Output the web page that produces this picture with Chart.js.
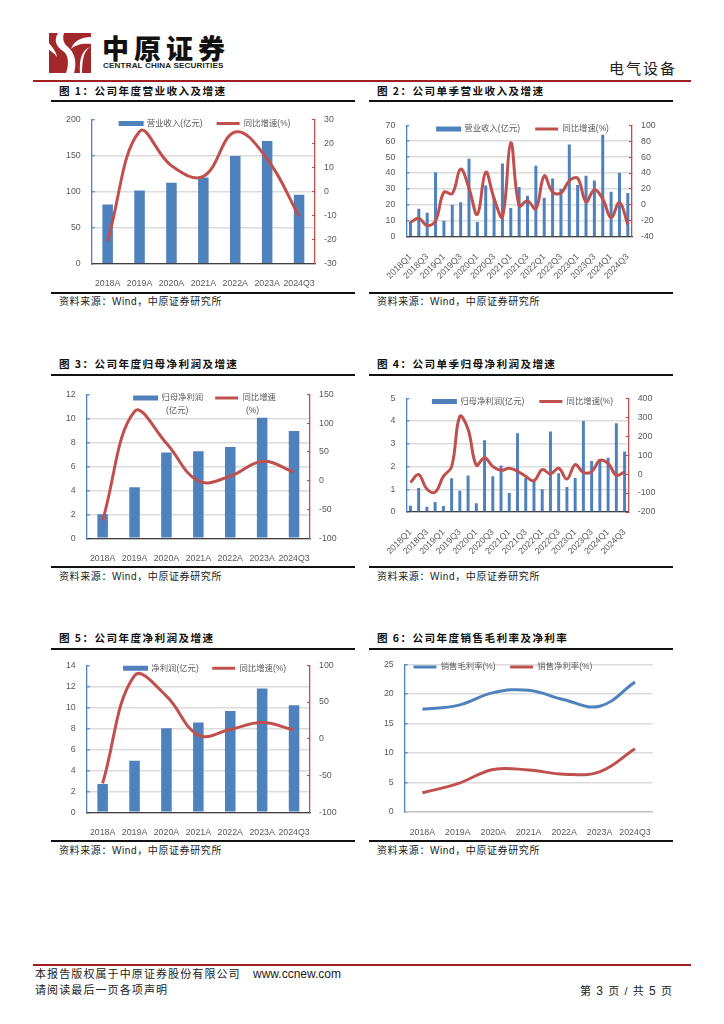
<!DOCTYPE html>
<html>
<head>
<meta charset="utf-8">
<script src="https://cdn.jsdelivr.net/npm/chart.js@4"></script>
<style>
  html, body { margin: 0; padding: 0; background: #fff; }
  #page { position: relative; width: 724px; height: 1024px; overflow: hidden; font-family: 'Liberation Sans', 'Noto Sans CJK SC', sans-serif; color: #1a1a1a; }
  #page canvas, .t, .rule { position: absolute; }
  .t { white-space: nowrap; line-height: 1; }
  .title { font-family: 'Noto Sans CJK SC', sans-serif; font-weight: 700; font-size: 10.6px; letter-spacing: 1.4px; color: #111; }
  .src { font-size: 10px; letter-spacing: 0.6px; color: #222; }
  .rule { background: #111; height: 2px; }
  .red { background: #a01f22; height: 2px; }
  .leg2 { font-size: 8.4px; color: #595959; }
  .foot { font-size: 11px; letter-spacing: 1.1px; color: #222; }
</style>
</head>
<body>
<div id="page">
  <svg style="position:absolute;left:49px;top:33px" width="42" height="40" viewBox="0 0 42 40">
    <rect width="42" height="40" fill="#a3282c"/>
    <path d="M9 0 C4 8 8 14 14 18 C20 22 20 32 17 40 L25 40 C28 30 26 20 19 14 C15 11 13 6 15 0 Z" fill="#fff"/>
    <path d="M42 4 C30 4 24 10 22 16 C26 12 33 10 42 11 Z" fill="#fff"/>
    <path d="M0 10 C3 14 7 18 8 24 C5 20 2 18 0 17 Z" fill="#fff"/>
    <path d="M42 14 C36 16 33 24 33 40 L31 40 C30 26 33 16 42 14 Z" fill="#fff"/>
  </svg>
  <div class="t" style="left:102px;top:34px;font-family:'Noto Sans CJK SC';font-weight:900;font-size:27px;letter-spacing:5px;color:#111">中原证券</div>
  <div class="t" style="left:103px;top:62px;font-weight:700;font-size:8.1px;letter-spacing:.15px;color:#222">CENTRAL CHINA SECURITIES</div>
  <div class="t" style="left:609px;top:60px;font-family:'Noto Sans CJK SC';font-size:15px;letter-spacing:2px;color:#222">电气设备</div>
  <div class="rule red" style="left:33px;top:80px;width:658px"></div>

  <div class="rule red" style="left:33px;top:964px;width:658px"></div>
  <div class="t foot" style="left:35px;top:969px">本报告版权属于中原证券股份有限公司</div>
  <div class="t" style="left:253px;top:968px;font-size:12px">www.ccnew.com</div>
  <div class="t foot" style="left:35px;top:985px">请阅读最后一页各项声明</div>
  <div class="t foot" style="left:580px;top:985px">第 <b style="font-weight:400;font-size:12px">3</b> 页 / 共 <b style="font-weight:400;font-size:12px">5</b> 页</div>
</div>

<script>
const yearLabels = ['2018A', '2019A', '2020A', '2021A', '2022A', '2023A', '2024Q3'];
const quarterLabels = ['2018Q1', '2018Q2', '2018Q3', '2018Q4', '2019Q1', '2019Q2', '2019Q3', '2019Q4',
  '2020Q1', '2020Q2', '2020Q3', '2020Q4', '2021Q1', '2021Q2', '2021Q3', '2021Q4',
  '2022Q1', '2022Q2', '2022Q3', '2022Q4', '2023Q1', '2023Q2', '2023Q3', '2023Q4',
  '2024Q1', '2024Q2', '2024Q3'];

// 图1
const revenueYear = [82, 101.5, 112, 119.5, 149, 170, 95.5];
const revenueYearGrowth = [-20.5, 24.9, 10.7, 6.3, 24.7, 13.5, -10.3];
// 图2
const revenueQuarter = [9.5, 17.5, 15, 40.5, 10, 20, 21.7, 49, 9.2, 32.2, 24.5, 46, 18, 31.2, 25.7, 44.5,
  24.5, 36.5, 30, 58, 32.5, 38.3, 35.3, 64, 28.2, 40.2, 27.5];
const revenueQuarterGrowth = [-22, -17, -26, -20, 16, 14, 45, 21, -12, 41, 8, -15, 78, -1, 5, -5,
  36.5, 16, 15, 30, 33.5, 4, 19, 7.5, -16, 3, -24.5];
// 图3
const parentProfitYear = [2, 4.25, 7.15, 7.25, 7.6, 10.05, 8.95];
const parentProfitYearGrowth = [-69, 120, 65, -0.6, 8, 33.5, 15];
// 图4
const parentProfitQuarter = [0.28, 1.06, 0.23, 0.44, 0.26, 1.48, 0.93, 1.6, 0.38, 3.15, 1.57, 2.04, 0.83, 3.46, 1.49, 1.38,
  1, 3.54, 1.7, 1.1, 1.5, 4, 2.24, 2.33, 2.38, 3.9, 2.66];
const parentProfitQuarterGrowth = [-44, -3, -79, -95, -12, 38, 304, 237, 47, 86, 41, 20, 31, 15, -12, -35,
  24, 1, 31, -26, 50, 9, 13, 73, 56, -6, 11];
// 图5
const netProfitYear = [2.7, 4.9, 8, 8.55, 9.65, 11.8, 10.2];
const netProfitYearGrowth = [-60.6, 86, 58, 5, 12.7, 22, 12];
// 图6
const grossMargin = [17.4, 18.05, 20.2, 20.6, 19, 17.9, 22];
const netMargin = [3.25, 4.8, 7.2, 7.1, 6.4, 6.8, 10.7];

const BLUE = '#4f81bd', RED = '#c0504d', GREY = '#595959', GRID = '#dcdcdc';
const TOP_SLACK = 4.28; // 图例上方布局自己留的空白（刻度字一半高）
const page = document.getElementById('page');

Chart.defaults.font.family = "'Liberation Sans', 'Noto Sans CJK SC', sans-serif";
Chart.defaults.color = GREY;

// 图例压在绘图区上面，不占布局高度
const overlayLegend = {
  id: 'overlayLegend',
  beforeLayout(chart) {
    const legend = chart.legend;
    if (legend._patched) return;
    const fit = legend.fit;
    legend.fit = function () { fit.call(this); this.height = chart.options.legendTop; };
    legend._patched = true;
  },
  afterLayout(chart) { chart.legend.bottom += 40; } // 否则图例被裁掉
};

function addText(cls, text, left, top) {
  const el = document.createElement('div');
  el.className = 't ' + cls;
  el.textContent = text;
  el.style.left = left + 'px';
  el.style.top = top + 'px';
  page.appendChild(el);
}

function addChart(c) {
  const W = 340;
  const boxX = Math.round(c.legendX - W / 2);
  const boxY = Math.round(c.plot.t + c.legendY - 4.2 - c.gap - TOP_SLACK);
  const legendTop = c.plot.t - boxY - TOP_SLACK;
  const canvas = document.createElement('canvas');
  canvas.width = W;
  canvas.height = Math.ceil(c.plot.b - boxY + c.bottomH);
  canvas.style.left = boxX + 'px';
  canvas.style.top = boxY + 'px';
  page.appendChild(canvas);

  const bottom = canvas.height - (c.plot.b - boxY);
  const leftW = c.plot.l - boxX, rightW = boxX + W - c.plot.r;
  const tick = { size: c.tickSize };
  const scales = {
    x: {
      offset: true,
      grid: { display: false },
      border: { color: c.xAxisColor || '#404040', width: 1.3 },
      ticks: {
        font: tick, padding: 7, autoSkip: false,
        minRotation: c.rotate || 0, maxRotation: c.rotate || 0,
        callback(v, i) { return c.rotate && i % 2 ? '' : this.getLabelForValue(v); }
      },
      afterFit(s) { s.height = bottom; }
    },
    y: {
      position: 'left', min: c.left[0], max: c.left[1],
      grid: {
        color: t => (t.tick.value === c.left[1] && !c.topGrid) ? 'transparent' : GRID,
        lineWidth: 1.5, tickLength: -3, tickColor: BLUE, tickWidth: 1.2
      },
      border: { color: BLUE, width: 1.3 },
      ticks: { stepSize: c.left[2], font: tick, padding: 14 },
      afterFit(s) { s.width = leftW; }
    }
  };
  if (c.right) {
    scales.y1 = {
      position: 'right', min: c.right[0], max: c.right[1],
      grid: { drawOnChartArea: false, tickLength: -3, tickColor: RED, tickWidth: 1.2 },
      border: { color: RED, width: 1.3 },
      ticks: { stepSize: c.right[2], font: tick, padding: 12 },
      afterFit(s) { s.width = rightW; }
    };
  }
  const datasets = c.series.map(s => s.type === 'bar'
    ? { type: 'bar', label: s.name, data: s.data, backgroundColor: s.color, order: 2, yAxisID: 'y',
        barPercentage: c.barPct, categoryPercentage: 1 }
    : { type: 'line', label: s.name, data: s.data, borderColor: s.color, backgroundColor: s.color,
        borderWidth: 3, pointRadius: 0, tension: 0.4, order: 1, yAxisID: s.axis });

  new Chart(canvas, {
    data: { labels: c.labels, datasets },
    plugins: [overlayLegend],
    options: {
      responsive: false,
      animation: false,
      legendTop,
      layout: { autoPadding: false, padding: { right: c.right ? 0 : rightW } },
      scales,
      plugins: {
        tooltip: { enabled: false },
        legend: {
          position: 'top',
          labels: {
            boxWidth: 23, boxHeight: 3, padding: c.gap,
            font: { size: 8.4 }, color: GREY,
            sort: (a, b) => a.datasetIndex - b.datasetIndex,
            generateLabels(chart) {
              return Chart.defaults.plugins.legend.labels.generateLabels(chart).map(i => {
                const isBar = chart.data.datasets[i.datasetIndex].type === 'bar';
                return Object.assign(i, { lineWidth: isBar ? 2 : 0, strokeStyle: i.fillStyle });
              });
            }
          }
        }
      }
    }
  });
}

function addFrame(title, x, titleY, rule1, rule2, srcY) {
  addText('title', title, x + 8, titleY - 6);
  [rule1, rule2].forEach(y => {
    const r = document.createElement('div');
    r.className = 'rule';
    r.style.cssText = `left:${x}px;top:${y - 1}px;width:304px`;
    page.appendChild(r);
  });
  addText('src', '资料来源：Wind，中原证券研究所', x + 8, srcY - 6);
}

addFrame('图 1：公司年度营业收入及增速', 51, 91.7, 101, 293.3, 303);
addFrame('图 2：公司单季营业收入及增速', 369, 91.7, 101, 293.3, 303);
addFrame('图 3：公司年度归母净利润及增速', 51, 365, 375.3, 567.3, 577.7);
addFrame('图 4：公司单季归母净利润及增速', 369, 365, 375.3, 567.3, 577.7);
addFrame('图 5：公司年度净利润及增速', 51, 639, 649.3, 841, 851.7);
addFrame('图 6：公司年度销售毛利率及净利率', 369, 639, 649.3, 841, 851.7);

addChart({
  labels: yearLabels, plot: { l: 91.7, r: 315, t: 118.3, b: 263.7 }, bottomH: 30, tickSize: 8.8,
  left: [0, 200, 50], right: [-30, 30, 10], barPct: 0.33, legendX: 204.5, legendY: 3.7, gap: 14,
  series: [
    { type: 'bar', name: '营业收入(亿元)', data: revenueYear, color: BLUE },
    { type: 'line', name: '同比增速(%)', data: revenueYearGrowth, color: RED, axis: 'y1' }
  ]
});
addChart({
  labels: quarterLabels, plot: { l: 406.3, r: 632, t: 125.7, b: 236.7 }, bottomH: 50, tickSize: 8.8, rotate: 45,
  left: [0, 70, 10], right: [-40, 100, 20], barPct: 0.36, legendX: 522.5, legendY: 3.3, gap: 15,
  series: [
    { type: 'bar', name: '营业收入(亿元)', data: revenueQuarter, color: BLUE },
    { type: 'line', name: '同比增速(%)', data: revenueQuarterGrowth, color: RED, axis: 'y1' }
  ]
});
addChart({
  labels: yearLabels, plot: { l: 86.7, r: 310, t: 391.7, b: 538.3 }, bottomH: 30, tickSize: 8.8,
  left: [0, 12, 2], right: [-100, 150, 50], barPct: 0.33, legendX: 205, legendY: 3.3, gap: 12,
  series: [
    { type: 'bar', name: '归母净利润', data: parentProfitYear, color: BLUE },
    { type: 'line', name: '同比增速', data: parentProfitYearGrowth, color: RED, axis: 'y1' }
  ]
});
addChart({
  labels: quarterLabels, plot: { l: 406.3, r: 628.7, t: 399.3, b: 512 }, bottomH: 50, tickSize: 8.8, rotate: 45,
  left: [0, 5, 1], right: [-200, 400, 100], barPct: 0.36, legendX: 523, legendY: 3.4, gap: 15,
  series: [
    { type: 'bar', name: '归母净利润(亿元)', data: parentProfitQuarter, color: BLUE },
    { type: 'line', name: '同比增速(%)', data: parentProfitQuarterGrowth, color: RED, axis: 'y1' }
  ]
});
addChart({
  labels: yearLabels, plot: { l: 86.7, r: 310, t: 665, b: 812.3 }, bottomH: 30, tickSize: 8.8,
  left: [0, 14, 2], right: [-100, 100, 50], barPct: 0.33, legendX: 204.7, legendY: 3.3, gap: 13.5,
  series: [
    { type: 'bar', name: '净利润(亿元)', data: netProfitYear, color: BLUE },
    { type: 'line', name: '同比增速(%)', data: netProfitYearGrowth, color: RED, axis: 'y1' }
  ]
});
addChart({
  labels: yearLabels, plot: { l: 404.7, r: 652.7, t: 665.3, b: 812 }, bottomH: 30, tickSize: 8.8,
  left: [0, 25, 5], legendX: 522.5, legendY: 3, gap: 14.5, topGrid: true, xAxisColor: '#bfbfbf',
  series: [
    { type: 'line', name: '销售毛利率(%)', data: grossMargin, color: BLUE, axis: 'y' },
    { type: 'line', name: '销售净利率(%)', data: netMargin, color: RED, axis: 'y' }
  ]
});

addText('leg2', '(亿元)', 166, 405.5);
addText('leg2', '(%)', 246, 405.5);
</script>
</body>
</html>
